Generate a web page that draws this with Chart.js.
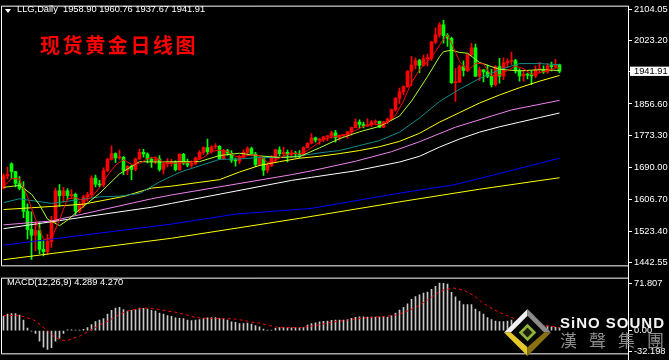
<!DOCTYPE html>
<html>
<head>
<meta charset="utf-8">
<script src="https://cdn.jsdelivr.net/npm/chart.js@4.4.1/dist/chart.umd.min.js"></script>
<style>
	html, body { margin: 0; padding: 0; background: #000; }
	#wrap { position: relative; width: 669px; height: 360px; overflow: hidden; background: #000; }
	canvas { position: absolute; left: 0; }
	#mainCanvas { top: 0; }
	#macdCanvas { top: 272px; }
	.txt { position: absolute; white-space: pre; font-family: "Liberation Sans", Arial, sans-serif; color: #fff; }
	#tri { position: absolute; left: 5px; top: 9px; width: 0; height: 0;
		border-left: 3px solid transparent; border-right: 3px solid transparent; border-top: 4px solid #fff; }
	#head { left: 17px; top: 4px; font-size: 9.3px; line-height: 11px; }
	#cnTitle { left: 40px; top: 35px; font-family: "Noto Sans CJK SC", sans-serif; font-weight: bold;
		font-size: 20px; line-height: 20px; letter-spacing: 2.6px; color: #ff0000; }
	#macdHead { left: 7px; top: 277px; font-size: 9.3px; line-height: 11px; }
	#logo { position: absolute; left: 504px; top: 309px; }
	#brand { left: 560px; top: 315px; font-size: 15px; line-height: 15px; font-weight: bold; letter-spacing: 1px; color: #f4f4f4; }
	#brandCn { left: 560px; top: 331px; font-family: "Noto Sans CJK TC", sans-serif; font-size: 17px; line-height: 17px;
		letter-spacing: 12px; color: #8e8e8e; }
</style>
</head>
<body>
<div id="wrap">
	<canvas id="mainCanvas" width="669" height="272"></canvas>
	<canvas id="macdCanvas" width="669" height="88"></canvas>
	<div id="tri"></div>
	<div id="head" class="txt">LLG,Daily  1958.90 1960.76 1937.67 1941.91</div>
	<div id="cnTitle" class="txt">现货黄金日线图</div>
	<div id="macdHead" class="txt">MACD(12,26,9) 4.289 4.270</div>
	<svg id="logo" width="47" height="47" viewBox="0 0 48 48">
		<polygon points="24,0 48,24 24,48 0,24" fill="#050505"/>
		<polygon points="24,0 24,7 7,24 0,24" fill="#f0f0f0"/>
		<polygon points="24,0 48,24 41,24 24,7" fill="#8c8c8c"/>
		<polygon points="0,24 7,24 24,39 24,48" fill="#e6c82a"/>
		<polygon points="48,24 24,48 24,39 41,24" fill="#8a7012"/>
		<polygon points="24,15 33,24 24,33 15,24" fill="#8fb43a"/>
		<polygon points="24,19 29,24 24,29 19,24" fill="#1e1e0c"/>
	</svg>
	<div id="brand" class="txt">SiNO SOUND</div>
	<div id="brandCn" class="txt">漢聲集團</div>
</div>
<script>
// LLG daily candles (bar 0 = leftmost)
const opens = [
	1637, 1669, 1700, 1680, 1649, 1636, 1576, 1529, 1514, 1526, 1477, 1471, 1498, 1553, 1630, 1617, 1630, 1617, 1621, 1577,
	1591, 1614, 1620, 1663, 1647, 1645, 1683, 1712, 1727, 1716, 1717, 1683, 1694, 1686, 1713, 1730, 1726, 1713, 1708, 1713,
	1686, 1700, 1702, 1705, 1685, 1725, 1702, 1697, 1701, 1715, 1730, 1743, 1732, 1745, 1746, 1714, 1735, 1728, 1710, 1708,
	1718, 1730, 1740, 1726, 1699, 1714, 1684, 1697, 1715, 1737, 1727, 1730, 1725, 1727, 1726, 1723, 1743, 1754, 1768, 1762,
	1763, 1771, 1773, 1781, 1769, 1775, 1776, 1784, 1795, 1809, 1803, 1799, 1802, 1809, 1811, 1796, 1810, 1817, 1842, 1871,
	1888, 1902, 1942, 1958, 1970, 1957, 1975, 1976, 2018, 2037, 2063, 2035, 2028, 1912, 1914, 1954, 1944, 1985, 2003, 1929,
	1946, 1940, 1929, 1907, 1954, 1929, 1964, 1968, 1970, 1943, 1930, 1934, 1932, 1930, 1946, 1947, 1940, 1956, 1954, 1958.90
];
const highs = [
	1674, 1692, 1703, 1681, 1667, 1654, 1596, 1575, 1549, 1548, 1500, 1516, 1563, 1637, 1646, 1639, 1636, 1633, 1624, 1601,
	1618, 1626, 1669, 1671, 1657, 1690, 1715, 1747, 1729, 1736, 1720, 1696, 1697, 1715, 1739, 1738, 1729, 1717, 1718, 1722,
	1702, 1714, 1712, 1708, 1727, 1728, 1713, 1708, 1718, 1735, 1745, 1765, 1748, 1753, 1748, 1738, 1738, 1735, 1715, 1723,
	1737, 1745, 1744, 1730, 1717, 1716, 1702, 1722, 1739, 1745, 1744, 1736, 1736, 1733, 1735, 1745, 1756, 1779, 1770, 1767,
	1772, 1775, 1786, 1788, 1776, 1777, 1785, 1796, 1818, 1815, 1809, 1818, 1813, 1815, 1812, 1811, 1820, 1843, 1873, 1898,
	1904, 1944, 1981, 1977, 1973, 1984, 1987, 2020, 2055, 2069, 2075, 2040, 2031, 1949, 1959, 1969, 1989, 2015, 2013, 1953,
	1947, 1958, 1947, 1957, 1976, 1977, 1975, 1992, 1973, 1948, 1945, 1937, 1943, 1956, 1965, 1956, 1962, 1966, 1973, 1960.76
];
const lows = [
	1635, 1661, 1661, 1640, 1632, 1560, 1504, 1451, 1473, 1466, 1460, 1463, 1482, 1547, 1590, 1600, 1607, 1611, 1567, 1573,
	1585, 1603, 1615, 1640, 1640, 1640, 1680, 1710, 1704, 1712, 1672, 1672, 1659, 1682, 1712, 1718, 1703, 1691, 1700, 1681,
	1673, 1692, 1694, 1682, 1683, 1698, 1692, 1691, 1698, 1711, 1725, 1725, 1728, 1739, 1712, 1712, 1722, 1704, 1694, 1701,
	1714, 1725, 1723, 1693, 1696, 1670, 1677, 1693, 1705, 1720, 1722, 1705, 1718, 1718, 1716, 1721, 1741, 1752, 1757, 1751,
	1759, 1761, 1767, 1757, 1762, 1771, 1767, 1775, 1794, 1795, 1794, 1798, 1798, 1802, 1795, 1795, 1805, 1815, 1838, 1858,
	1880, 1900, 1904, 1948, 1938, 1956, 1956, 1970, 2014, 2031, 2015, 2007, 1910, 1863, 1912, 1929, 1941, 1982, 1928, 1918,
	1914, 1925, 1901, 1903, 1911, 1920, 1953, 1960, 1937, 1916, 1916, 1922, 1907, 1925, 1937, 1936, 1937, 1943, 1950, 1937.67
];
const closes = [
	1669, 1673, 1680, 1649, 1636, 1576, 1529, 1514, 1526, 1477, 1471, 1498, 1553, 1630, 1617, 1630, 1617, 1621, 1577, 1591,
	1614, 1620, 1663, 1647, 1645, 1683, 1712, 1727, 1716, 1717, 1683, 1694, 1686, 1713, 1730, 1726, 1713, 1708, 1713, 1686,
	1700, 1702, 1705, 1685, 1725, 1702, 1697, 1701, 1715, 1730, 1743, 1732, 1745, 1746, 1714, 1735, 1728, 1710, 1708, 1718,
	1730, 1740, 1726, 1699, 1714, 1684, 1697, 1715, 1737, 1727, 1730, 1725, 1727, 1726, 1723, 1743, 1754, 1768, 1762, 1763,
	1771, 1773, 1781, 1769, 1775, 1776, 1784, 1795, 1809, 1803, 1799, 1802, 1809, 1811, 1796, 1810, 1817, 1842, 1871, 1888,
	1902, 1942, 1958, 1970, 1957, 1975, 1976, 2018, 2037, 2063, 2035, 2028, 1912, 1914, 1954, 1944, 1985, 2003, 1929, 1946,
	1940, 1929, 1907, 1954, 1929, 1964, 1968, 1970, 1943, 1930, 1934, 1932, 1930, 1946, 1947, 1940, 1956, 1954, 1959, 1941.91
];

// moving averages as [bar, price]
const ma5Pts = [
	[0, 1640], [2, 1662], [4, 1661], [6, 1614], [8, 1556], [10, 1503], [12, 1505], [14, 1554], [16, 1609], [18, 1612],
	[20, 1604], [22, 1613], [24, 1638], [26, 1670], [28, 1697], [30, 1711], [32, 1699], [34, 1701], [36, 1714], [38, 1718],
	[40, 1704], [42, 1701], [44, 1703], [46, 1703], [48, 1708], [50, 1717], [52, 1733], [54, 1736], [56, 1733], [58, 1719],
	[60, 1719], [62, 1724], [64, 1722], [66, 1704], [68, 1709], [70, 1721], [72, 1729], [74, 1726], [76, 1735], [78, 1750],
	[80, 1764], [82, 1770], [84, 1774], [86, 1777], [88, 1788], [90, 1798], [92, 1804], [94, 1803], [96, 1809], [98, 1827],
	[100, 1864], [101, 1889], [102, 1912], [104, 1946], [106, 1967], [108, 1993], [110, 2026], [111, 2036], [112, 2015],
	[114, 1968], [116, 1942], [118, 1963], [120, 1961], [122, 1930], [124, 1932], [126, 1944], [128, 1955], [130, 1949],
	[132, 1934], [134, 1938], [136, 1944], [138, 1951], [139, 1950]
];
const ma10Pts = [
	[0, 1639], [4, 1644], [7, 1621], [9, 1593], [11, 1556], [14, 1539], [16, 1553], [19, 1581], [24, 1623], [29, 1674],
	[34, 1706], [39, 1705], [44, 1706], [49, 1706], [54, 1722], [59, 1728], [64, 1721], [69, 1717], [74, 1719], [79, 1742],
	[84, 1766], [89, 1784], [94, 1798], [99, 1825], [102, 1864], [104, 1896], [106, 1928], [109, 1980], [110, 1993],
	[112, 1997], [114, 1991], [116, 1989], [119, 1965], [124, 1947], [129, 1943], [134, 1946], [139, 1944]
];
const ma30Pts = [
	[0, 1599], [4, 1609], [12, 1597], [24, 1614], [29, 1616], [34, 1623], [39, 1653], [44, 1678], [49, 1695], [54, 1712],
	[59, 1713], [64, 1717], [69, 1717], [74, 1721], [79, 1729], [84, 1735], [89, 1748], [94, 1761], [99, 1783], [104, 1820],
	[109, 1863], [114, 1895], [119, 1923], [124, 1946], [129, 1962], [134, 1962], [139, 1959]
];
const ma50Pts = [
	[0, 1581], [12, 1589], [20, 1595], [30, 1615], [37, 1637], [42, 1642], [49, 1652], [54, 1659], [59, 1679], [64, 1696],
	[69, 1706], [74, 1715], [79, 1720], [84, 1727], [89, 1735], [94, 1745], [99, 1759], [104, 1780], [109, 1809],
	[114, 1834], [119, 1859], [124, 1880], [129, 1899], [134, 1916], [139, 1931]
];
const violetPts = [
	[0, 1541], [12, 1551], [37, 1609], [42, 1619], [72, 1672], [77, 1682], [88, 1707], [97, 1732], [104, 1758],
	[113, 1796], [127, 1841], [139, 1866]
];
const whitePts = [
	[0, 1531], [37, 1587], [42, 1597], [72, 1657], [77, 1665], [88, 1682], [99, 1705], [104, 1720], [109, 1744],
	[114, 1765], [119, 1783], [124, 1797], [129, 1809], [134, 1821], [139, 1833]
];
const bluePts = [
	[0, 1488], [42, 1543], [58, 1569], [77, 1584], [98, 1622], [104, 1632], [112, 1644], [124, 1675], [139, 1715]
];
const yellowLowPts = [
	[0, 1450], [42, 1506], [74, 1558], [99, 1601], [119, 1634], [139, 1664]
];

// MACD(12,26,9): main line per bar and signal as [bar, value]
const macdMain = [
	21.4, 25, 25.9, 25.9, 23.6, 15.9, 3.6, -1, -4.5, -15.9, -25, -28.6, -25.9, -15.9, -11.4, -4.5, 1.2, 1.2, 0.9, 0.9,
	2, 4.5, 9, 13.6, 15.9, 18, 25, 30.5, 34, 35, 31.8, 29.5, 30.5, 31.8, 34, 33.6, 32.7, 30.5, 29.5, 26.4,
	25, 22.7, 21.4, 19.1, 18.6, 18.2, 15.9, 15, 15.9, 16.8, 18.2, 19.1, 19.5, 19.5, 18.2, 17.3, 15.9, 13.2, 12.3, 10.5,
	10.5, 11.4, 10, 7.7, 5.5, 2.3, 0.9, 0.9, 3.2, 4.5, 5, 4.5, 4, 4.5, 4, 4.5, 8.2, 10.5, 11.8, 13.2,
	14, 14.5, 15.5, 15.9, 15.9, 15.9, 16.8, 18.6, 20, 20.9, 20.9, 20.5, 20.5, 20.5, 20.5, 20.5, 20.5, 22.3, 26.4, 30.9,
	35, 40.5, 47.3, 51.4, 54, 56.8, 58.2, 62.3, 66.8, 71.807, 71.5, 70.5, 58, 51, 44.5, 39.5, 39.5, 39.5, 32.7, 28.6,
	25, 19.5, 16.8, 14.5, 13.6, 13.6, 14.5, 15.9, 13.6, 11.4, 9, 7.7, 5.9, 6.8, 8.2, 7.7, 7.3, 5.5, 5, 4.289
];
const macdSignalPts = [
	[0, 22.7], [4.2, 22.7], [5.9, 19.5], [7.6, 15.9], [9.2, 9], [10.9, 0], [12.6, -9], [14.2, -14.5], [15.9, -15],
	[17.6, -11.4], [19.2, -8], [20.9, -2.3], [22.6, 3.6], [24.2, 9], [25.9, 13.6], [27.6, 19.5], [29.2, 25], [30.9, 29.5],
	[32.6, 31.8], [34.2, 33.2], [35.9, 34], [37.6, 33.2], [39.2, 31.8], [40.9, 29.5], [42.6, 28.2], [44.2, 25.9],
	[45.9, 23.6], [47.6, 20.5], [49.2, 19], [50.9, 18.6], [54.2, 18.2], [57.6, 17.7], [60.9, 14.5], [62, 12.7], [64, 11.4],
	[66, 8.2], [68, 5.5], [70.5, 4.5], [74.5, 4.5], [76, 5.9], [78.5, 8.2], [81, 11.4], [83.5, 14], [86, 15.9], [88.5, 18.2],
	[91, 19.5], [93.5, 20.5], [96, 21.8], [98.5, 24], [101, 29.5], [103.5, 36.4], [106, 46.4], [108.5, 56.8], [110, 61.4],
	[112.5, 64.5], [115, 61.4], [117.6, 53], [120, 41], [122.6, 31.8], [125, 25], [127.6, 18.2], [130, 13.6], [132.6, 9],
	[135, 6.8], [136.8, 6.8], [139, 4.27]
];

const priceTicks = [2104.05, 2023.20, 1941.91, 1856.60, 1773.30, 1690.00, 1606.70, 1523.40, 1442.55];
const macdTicks = [71.807, 0, -32.198];
const macdTickLabels = ['71.807', '0.00', '-32.198'];

const UP_COLOR = '#ff0000';
const DOWN_COLOR = '#00ff00';
const X_MIN = -0.375;
const X_MAX = 156.125;
const AXIS_FONT = { family: '"Liberation Sans", Arial, sans-serif', size: 9.3, lineHeight: 1 };
const lastClose = closes[closes.length - 1];

function toPoints(pts) {
	return pts.map(function(p) { return { x: p[0], y: p[1] }; });
}

function maLine(label, pts, color) {
	return {
		type: 'line',
		label: label,
		data: toPoints(pts),
		borderColor: color,
		borderWidth: 1,
		pointRadius: 0,
		tension: 0,
		order: 0
	};
}

function barAxis() {
	return { type: 'linear', min: X_MIN, max: X_MAX, offset: false, display: false };
}

function rightAxis(min, max, ticks, labelFn) {
	return {
		position: 'right',
		min: min,
		max: max,
		afterFit: function(scale) { scale.width = 41; },
		afterBuildTicks: function(scale) {
			scale.ticks = ticks.map(function(v) { return { value: v }; });
		},
		border: { display: true, color: '#ffffff', width: 1 },
		grid: { drawOnChartArea: false, drawTicks: true, tickLength: 4, color: '#ffffff' },
		ticks: {
			padding: 2,
			font: AXIS_FONT,
			callback: labelFn,
			color: function(ctx) { return ctx.tick && ctx.tick.value === lastClose ? '#000000' : '#ffffff'; },
			showLabelBackdrop: true,
			backdropPadding: { left: 4, right: 3, top: 0, bottom: 0 },
			backdropColor: function(ctx) { return ctx.tick && ctx.tick.value === lastClose ? '#ffffff' : 'rgba(0,0,0,0)'; }
		}
	};
}

// white frame round the plot area, as in the terminal
const framePlugin = {
	id: 'frame',
	afterDraw: function(chart) {
		let a = chart.chartArea;
		let ctx = chart.ctx;
		ctx.save();
		ctx.strokeStyle = '#ffffff';
		ctx.lineWidth = 1;
		ctx.beginPath();
		ctx.moveTo(a.right + 0.5, a.top - 0.5);
		ctx.lineTo(a.left - 0.5, a.top - 0.5);
		ctx.lineTo(a.left - 0.5, a.bottom + 0.5);
		ctx.lineTo(a.right + 0.5, a.bottom + 0.5);
		ctx.moveTo(a.right + 0.5, chart.options.frameFull ? 0 : a.top - 0.5);
		ctx.lineTo(a.right + 0.5, chart.height);
		ctx.stroke();
		ctx.restore();
	}
};

let candleColors = closes.map(function(c, i) { return c >= opens[i] ? UP_COLOR : DOWN_COLOR; });

let mainChart = new Chart(document.getElementById('mainCanvas'), {
	type: 'bar',
	data: {
		datasets: [
			maLine('MA5', ma5Pts, '#ff0000'),
			maLine('MA10', ma10Pts, '#adff2f'),
			maLine('MA30', ma30Pts, '#108c8c'),
			maLine('MA50', ma50Pts, '#ffff00'),
			maLine('MA violet', violetPts, '#ee82ee'),
			maLine('MA100', whitePts, '#ffffff'),
			maLine('MA blue', bluePts, '#0000ff'),
			maLine('MA yellow', yellowLowPts, '#ffff00'),
			{
				label: 'wick',
				data: lows.map(function(l, i) { return { x: i, y: [l, highs[i]] }; }),
				backgroundColor: candleColors,
				barThickness: 1,
				grouped: false,
				order: 2
			},
			{
				label: 'body',
				data: opens.map(function(o, i) { return { x: i, y: [o, closes[i]] }; }),
				backgroundColor: candleColors,
				barThickness: 3,
				minBarLength: 1,
				grouped: false,
				order: 1
			}
		]
	},
	options: {
		responsive: false,
		animation: false,
		events: [],
		layout: { padding: { left: 2, top: 3, bottom: 1, right: 0 } },
		plugins: { legend: { display: false }, tooltip: { enabled: false } },
		scales: {
			x: barAxis(),
			y: rightAxis(1435.3, 2110.6, priceTicks, function(v) { return v.toFixed(2); })
		}
	},
	plugins: [framePlugin]
});

let macdChart = new Chart(document.getElementById('macdCanvas'), {
	type: 'bar',
	data: {
		datasets: [
			{
				type: 'line',
				label: 'signal',
				data: toPoints(macdSignalPts),
				borderColor: '#ff0000',
				borderWidth: 1,
				borderDash: [3, 3],
				pointRadius: 0,
				tension: 0,
				order: 0
			},
			{
				label: 'MACD',
				data: macdMain.map(function(v, i) { return { x: i, y: v }; }),
				backgroundColor: '#c8c8c8',
				barThickness: 1,
				grouped: false,
				order: 1
			}
		]
	},
	options: {
		responsive: false,
		animation: false,
		events: [],
		frameFull: true,
		layout: { padding: { left: 2, top: 2, bottom: 3, right: 0 } },
		plugins: { legend: { display: false }, tooltip: { enabled: false } },
		scales: {
			x: barAxis(),
			y: rightAxis(-34.5, 78.6, macdTicks, function(v, i) { return macdTickLabels[i]; })
		}
	},
	plugins: [framePlugin]
});
</script>
</body>
</html>
